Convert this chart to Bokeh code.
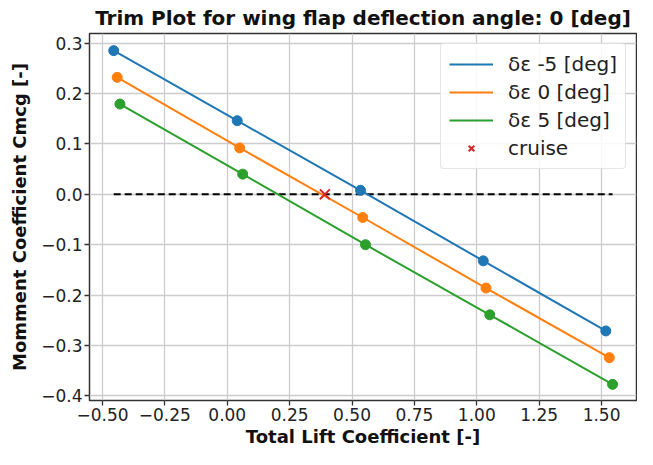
from bokeh.plotting import figure
from bokeh.models import (Range1d, FixedTicker, CustomJSTickFormatter, Legend, LegendItem)
from bokeh.embed import file_html
from bokeh.resources import INLINE

# ---- data ----
lift_m5 = [-0.455, 0.040, 0.534, 1.026, 1.517]
cm_m5 = [0.285, 0.146, 0.008, -0.132, -0.271]
lift_0 = [-0.441, 0.050, 0.543, 1.037, 1.531]
cm_0 = [0.232, 0.092, -0.046, -0.186, -0.324]
lift_p5 = [-0.430, 0.062, 0.554, 1.052, 1.544]
cm_p5 = [0.179, 0.040, -0.100, -0.239, -0.377]
cruise_lift = [0.391]
cruise_cm = [0.0]
series_labels = ["δε -5 [deg]", "δε 0 [deg]", "δε 5 [deg]"]
series_colors = ["#1f77b4", "#ff7f0e", "#2ca02c"]
x_ticks = [-0.50, -0.25, 0.00, 0.25, 0.50, 0.75, 1.00, 1.25, 1.50]
y_ticks = [-0.4, -0.3, -0.2, -0.1, 0.0, 0.1, 0.2, 0.3]

FONT = "DejaVu Sans"

p = figure(width=637, height=449, output_backend="svg", toolbar_location=None,
           x_range=Range1d(-0.552, 1.640), y_range=Range1d(-0.409, 0.319),
           min_border_left=89, min_border_right=1, min_border_top=0, min_border_bottom=0)

p.title.text = "Trim Plot for wing flap deflection angle: 0 [deg]"
p.title.text_font = FONT
p.title.text_font_size = "20px"
p.title.text_font_style = "bold"
p.title.align = "center"
p.title.text_color = "#111111"
p.title.standoff = 7
p.title.offset = 0

# zero line (dashed) across the data range
all_lift = lift_m5 + lift_0 + lift_p5
p.line([min(all_lift), max(all_lift)], [0, 0], line_color="black", line_width=2,
       line_dash="7 4")

renderers = []
for xs, ys, col in zip([lift_m5, lift_0, lift_p5], [cm_m5, cm_0, cm_p5], series_colors):
    r = p.line(xs, ys, line_color=col, line_width=2)
    p.scatter(xs, ys, size=10, fill_color=col, line_color=col)
    renderers.append(r)

rc = p.scatter(cruise_lift, cruise_cm, marker="x", size=14, line_color="#d62728", line_width=2)

items = [LegendItem(label=lab, renderers=[r]) for lab, r in zip(series_labels, renderers)]
items.append(LegendItem(label="cruise", renderers=[rc]))
legend = Legend(items=items, location="top_right")
legend.label_text_font = FONT
legend.label_text_font_size = "20px"
legend.label_text_color = "#222222"
legend.glyph_width = 44
legend.glyph_height = 20
legend.label_height = 20
legend.label_standoff = 15
legend.spacing = 4
legend.padding = 8
legend.margin = 10
legend.border_line_color = "#cccccc"
legend.border_line_width = 1
legend.border_radius = 4
legend.background_fill_alpha = 0.85
p.add_layout(legend)

# axes
p.xaxis.ticker = FixedTicker(ticks=x_ticks)
p.yaxis.ticker = FixedTicker(ticks=y_ticks)
p.xaxis.formatter = CustomJSTickFormatter(code="return tick.toFixed(2).replace('-', '\u2212');")
p.yaxis.formatter = CustomJSTickFormatter(code="return tick.toFixed(1).replace('-', '\u2212');")
p.xaxis.axis_label = "Total Lift Coefficient [-]"
p.yaxis.axis_label = "Momment Coefficient Cmcg [-]"
for ax in (p.xaxis, p.yaxis):
    ax.axis_label_text_font = FONT
    ax.axis_label_text_font_size = "18px"
    ax.axis_label_text_font_style = "bold"
    ax.axis_label_text_color = "#111111"
    ax.major_label_text_font = FONT
    ax.major_label_text_font_size = "17px"
    ax.major_label_text_color = "#222222"
    ax.major_label_standoff = 2
    ax.major_tick_out = 5
    ax.major_tick_in = 0
    ax.minor_tick_out = 0
    ax.minor_tick_in = 0
    ax.major_tick_line_color = "#333333"
    ax.major_tick_line_width = 1.3
    ax.axis_line_color = None
p.xaxis.axis_label_standoff = 2
p.yaxis.axis_label_standoff = 8

p.outline_line_color = "#333333"
p.outline_line_width = 1.5
p.outline_line_alpha = 1
p.grid.grid_line_color = "#cccccc"
p.grid.grid_line_width = 1.3
p.background_fill_color = "white"
p.border_fill_color = "white"

open("out.html", "w").write(file_html(p, INLINE))
